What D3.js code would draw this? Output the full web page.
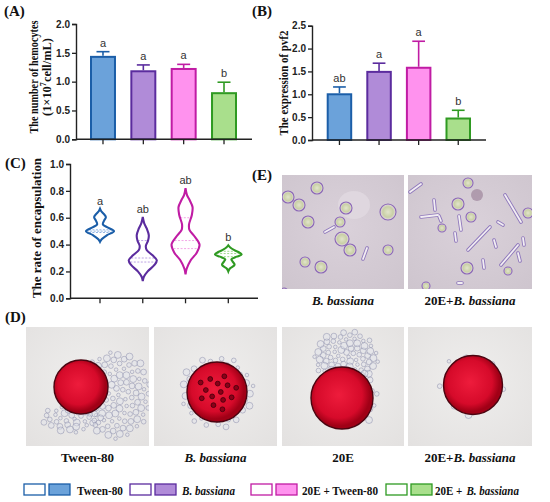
<!DOCTYPE html>
<html>
<head>
<meta charset="utf-8">
<script src="https://cdn.jsdelivr.net/npm/d3@7"></script>
<style>
  body { margin: 0; background: #fff; }
  svg { display: block; }
</style>
</head>
<body>
<svg id="fig" width="550" height="502"></svg>
<script>
// groups + colours
const groups = ["Tween-80", "B. bassiana", "20E + Tween-80", "20E + B. bassiana"];
const strokeColors = ["#1b5ea8", "#5b2c9e", "#c01ca4", "#2f9a22"];
const fillColors = ["#6ba2da", "#b08bd8", "#ff92ee", "#a9df8c"];
const dashColors = ["#90b4e4", "#bda4e4", "#f2a6e6", "#9ed88c"];

// (A) hemocyte counts
const hemoMean = [1.43, 1.18, 1.22, 0.80];
const hemoUpper = [1.52, 1.29, 1.30, 0.99];
const hemoLetters = ["a", "a", "a", "b"];
const hemoTicks = [0, 0.5, 1.0, 1.5, 2.0];

// (B) pvf2 expression
const pvf2Mean = [1.00, 1.49, 1.58, 0.47];
const pvf2Upper = [1.16, 1.68, 2.16, 0.65];
const pvf2Letters = ["ab", "a", "a", "b"];
const pvf2Ticks = [0, 0.5, 1.0, 1.5, 2.0, 2.5];

// (C) encapsulation violins: [value, relative density]
const encapProfiles = [
    [[0.42, 0], [0.44, 0.12], [0.47, 0.5], [0.50, 1.0], [0.53, 0.5], [0.55, 0.2], [0.58, 0.3], [0.605, 0.42], [0.63, 0.25], [0.65, 0.08], [0.667, 0]],
    [[0.128, 0], [0.16, 0.08], [0.20, 0.35], [0.25, 0.85], [0.284, 1.0], [0.32, 0.7], [0.36, 0.28], [0.39, 0.22], [0.43, 0.38], [0.47, 0.43], [0.52, 0.28], [0.56, 0.1], [0.605, 0]],
    [[0.178, 0], [0.22, 0.08], [0.28, 0.35], [0.34, 0.8], [0.40, 1.0], [0.46, 0.65], [0.51, 0.28], [0.55, 0.25], [0.62, 0.45], [0.68, 0.5], [0.73, 0.3], [0.77, 0.1], [0.82, 0]],
    [[0.20, 0], [0.22, 0.1], [0.25, 0.45], [0.275, 0.3], [0.29, 0.22], [0.31, 0.6], [0.326, 0.95], [0.34, 0.8], [0.36, 0.4], [0.38, 0.12], [0.395, 0]]
];
const encapQuartiles = [[0.49, 0.50, 0.51], [0.27, 0.30, 0.43], [0.37, 0.43, 0.60], [0.31, 0.333, 0.35]];
const encapLetters = ["a", "ab", "ab", "b"];
const encapTicks = [0, 0.2, 0.4, 0.6, 0.8, 1.0];

// photo captions and legend: [upright part, italic part, gap]
const photoCaptionsD = [["Tween-80", "", 0], ["", "B. bassiana", 0], ["20E", "", 0], ["20E+", "B. bassiana", 0]];
const photoCaptionsE = [["", "B. bassiana", 0], ["20E+", "B. bassiana", 0]];
const legendParts = [["Tween-80", "", 0], ["", "B. bassiana", 0], ["20E + Tween-80", "", 0], ["20E +", "B. bassiana", 4]];

const svg = d3.select("#fig");
const serif = "'Liberation Serif', 'Times New Roman', serif";
const sans = "'Liberation Sans', Arial, sans-serif";
const defs = svg.append("defs");

function panelLabel(txt, x, y) {
    svg.append("text").attr("x", x).attr("y", y)
        .attr("font-family", serif).attr("font-weight", "bold").attr("font-size", 15)
        .attr("fill", "#111").text(txt);
}

function yAxis(g, y, ticks, x0) {
    const ax = g.append("g").attr("transform", `translate(${x0},0)`)
        .call(d3.axisLeft(y).tickValues(ticks).tickFormat(d3.format(".1f")).tickSize(4).tickPadding(2));
    ax.select(".domain").attr("stroke", "#222").attr("stroke-width", 1.4);
    ax.selectAll(".tick line").attr("stroke", "#222").attr("stroke-width", 1.3);
    ax.selectAll(".tick text").attr("font-family", sans).attr("font-weight", "bold")
        .attr("font-size", 10).attr("fill", "#222");
}

function xAxis(g, y0, x0, x1, centers) {
    g.append("line").attr("x1", x0).attr("x2", x1).attr("y1", y0).attr("y2", y0)
        .attr("stroke", "#222").attr("stroke-width", 1.4);
    g.selectAll(".xt").data(centers).join("line")
        .attr("x1", d => d).attr("x2", d => d).attr("y1", y0).attr("y2", y0 + 5)
        .attr("stroke", "#222").attr("stroke-width", 1.3);
}

function yTitle(lines, yc) {
    lines.forEach(l => {
        const t = svg.append("text")
            .attr("transform", `translate(${l.x},${yc}) rotate(-90)`)
            .attr("text-anchor", "middle")
            .attr("font-family", serif).attr("font-weight", "bold").attr("font-size", 11.5)
            .attr("fill", "#111");
        if (l.len) t.attr("textLength", l.len).attr("lengthAdjust", "spacingAndGlyphs");
        l.parts.forEach(p => {
            const s = t.append("tspan").text(p.t);
            if (p.sup) s.attr("font-size", 7.5).attr("dy", -5);
            if (p.after) s.attr("dy", 5);
        });
    });
}

// upright + italic text pieces laid side by side
function mixedText(parent, parts, x, y, size, anchor, totalLen) {
    const g = parent.append("g");
    const gap = parts[2];
    const a = g.append("text").attr("y", y).attr("font-family", serif).attr("font-weight", "bold")
        .attr("font-size", size).attr("fill", "#111").text(parts[0]);
    const b = g.append("text").attr("y", y).attr("font-family", serif).attr("font-weight", "bold")
        .attr("font-style", "italic").attr("font-size", size).attr("fill", "#111").text(parts[1]);
    let wa = parts[0] ? a.node().getComputedTextLength() : 0;
    let wb = parts[1] ? b.node().getComputedTextLength() : 0;
    if (totalLen) {
        const k = (totalLen - gap) / (wa + wb);
        wa *= k; wb *= k;
        if (parts[0]) a.attr("textLength", wa).attr("lengthAdjust", "spacingAndGlyphs");
        if (parts[1]) b.attr("textLength", wb).attr("lengthAdjust", "spacingAndGlyphs");
    }
    const x0 = anchor === "middle" ? x - (wa + wb + gap) / 2 : x;
    a.attr("x", x0);
    b.attr("x", x0 + wa + gap);
    if (!parts[0]) a.remove();
    if (!parts[1]) b.remove();
}

function barPanel(cfg) {
    const g = svg.append("g");
    const y = d3.scaleLinear().domain([0, cfg.max]).range([cfg.yBottom, cfg.yTop]);
    const x = d3.scaleBand().domain(groups).range(cfg.barRange).paddingInner(0.356).paddingOuter(0);
    const bw = x.bandwidth();

    g.selectAll(".bar").data(groups).join("rect")
        .attr("x", d => x(d) + 1)
        .attr("width", bw - 2)
        .attr("y", (d, i) => y(cfg.mean[i]))
        .attr("height", (d, i) => y(0) - y(cfg.mean[i]))
        .attr("fill", (d, i) => fillColors[i])
        .attr("stroke", (d, i) => strokeColors[i])
        .attr("stroke-width", 2);

    g.selectAll(".err").data(groups).join("line")
        .attr("x1", d => x(d) + bw / 2).attr("x2", d => x(d) + bw / 2)
        .attr("y1", (d, i) => y(cfg.mean[i]) - 1).attr("y2", (d, i) => y(cfg.upper[i]))
        .attr("stroke", (d, i) => strokeColors[i]).attr("stroke-width", 1.6);
    g.selectAll(".cap").data(groups).join("line")
        .attr("x1", d => x(d) + bw / 4).attr("x2", d => x(d) + bw * 3 / 4)
        .attr("y1", (d, i) => y(cfg.upper[i])).attr("y2", (d, i) => y(cfg.upper[i]))
        .attr("stroke", (d, i) => strokeColors[i]).attr("stroke-width", 1.6);
    g.selectAll(".let").data(groups).join("text")
        .attr("x", d => x(d) + bw / 2).attr("y", (d, i) => y(cfg.upper[i]) - 5)
        .attr("text-anchor", "middle").attr("font-family", sans).attr("font-size", 11)
        .attr("fill", "#333").text((d, i) => cfg.letters[i]);

    xAxis(g, cfg.yBottom, cfg.x0, cfg.x1, groups.map(d => x(d) + bw / 2));
    yAxis(g, y, cfg.ticks, cfg.x0);
}

// ---------- (A)
panelLabel("(A)", 4, 16);
barPanel({ mean: hemoMean, upper: hemoUpper, letters: hemoLetters, ticks: hemoTicks, max: 2.0,
    yTop: 24, yBottom: 139.3, x0: 76, x1: 252, barRange: [90, 237] });
yTitle([
    { x: 38, parts: [{ t: "The number of hemocytes" }], len: 113 },
    { x: 51, parts: [{ t: "(1×10" }, { t: "7", sup: true }, { t: "cell/mL)", after: true }], len: 78 }
], 77);

// ---------- (B)
panelLabel("(B)", 252, 16);
barPanel({ mean: pvf2Mean, upper: pvf2Upper, letters: pvf2Letters, ticks: pvf2Ticks, max: 2.5,
    yTop: 25.7, yBottom: 140, x0: 312, x1: 486, barRange: [326.7, 471] });
yTitle([{ x: 288, parts: [{ t: "The expression of  pvf2" }], len: 105 }], 83);

// ---------- (C)
panelLabel("(C)", 5, 168);
{
    const g = svg.append("g");
    const y = d3.scaleLinear().domain([0, 1]).range([298.3, 164]);
    const x = d3.scalePoint().domain(groups).range([100, 228.3]);
    const w = d3.scaleLinear().domain([0, 1]).range([0, 14]);

    const area = d3.area()
        .y(d => y(d[0]))
        .x0(d => -w(d[1]))
        .x1(d => w(d[1]))
        .curve(d3.curveCatmullRom.alpha(0.5));
    const profileAt = (prof, v) =>
        d3.scaleLinear().domain(prof.map(p => p[0])).range(prof.map(p => p[1]))(v);

    groups.forEach((grp, i) => {
        const vg = g.append("g").attr("transform", `translate(${x(grp)},0)`);
        vg.selectAll(".q").data(encapQuartiles[i]).join("line")
            .attr("x1", d => -w(profileAt(encapProfiles[i], d)) * 0.95)
            .attr("x2", d => w(profileAt(encapProfiles[i], d)) * 0.95)
            .attr("y1", d => y(d)).attr("y2", d => y(d))
            .attr("stroke", dashColors[i]).attr("stroke-width", 1)
            .attr("stroke-dasharray", "2,1.5");
        vg.append("path").datum(encapProfiles[i])
            .attr("d", area)
            .attr("fill", "none")
            .attr("stroke", strokeColors[i])
            .attr("stroke-width", 2.1);
        const top = d3.max(encapProfiles[i], d => d[0]);
        vg.append("text").attr("x", 0).attr("y", y(top) - 4)
            .attr("text-anchor", "middle").attr("font-family", sans).attr("font-size", 11)
            .attr("fill", "#333").text(encapLetters[i]);
    });

    xAxis(g, 298.3, 70, 258, groups.map(d => x(d)));
    yAxis(g, y, encapTicks, 70);
}
yTitle([{ x: 41, parts: [{ t: "The rate of encapsulation" }], len: 140 }], 228);

// ---------- photo helpers
function photoFrame(id, x, y, w, h, bg, edge) {
    const cp = defs.append("clipPath").attr("id", id);
    cp.append("rect").attr("x", x).attr("y", y).attr("width", w).attr("height", h);
    const gr = defs.append("radialGradient").attr("id", id + "bg").attr("cx", "50%").attr("cy", "45%").attr("r", "75%");
    gr.append("stop").attr("offset", "0%").attr("stop-color", bg);
    gr.append("stop").attr("offset", "100%").attr("stop-color", edge);
    const g = svg.append("g").attr("clip-path", `url(#${id})`);
    g.append("rect").attr("x", x).attr("y", y).attr("width", w).attr("height", h).attr("fill", `url(#${id}bg)`);
    return g;
}

// ---------- (E) hemocytes and hyphal bodies
panelLabel("(E)", 252, 180);
const cellGrad = defs.append("radialGradient").attr("id", "cellG");
cellGrad.append("stop").attr("offset", "0%").attr("stop-color", "#e2e4cc");
cellGrad.append("stop").attr("offset", "65%").attr("stop-color", "#c9d0a6");
cellGrad.append("stop").attr("offset", "100%").attr("stop-color", "#e4d8e6");

// cells: [dx, dy, r] inside photo; rods: [dx1, dy1, dx2, dy2]
const eCells = [
    [[6, 22, 6], [35, 13, 6], [17, 30, 6], [26, 47, 6], [64, 33, 6], [58, 47, 5], [60, 64, 7], [68, 75, 6], [106, 37, 8], [106, 75, 5], [23, 87, 5], [39, 92, 6], [2, 117, 4]],
    [[60, 8, 5], [50, 29, 6], [63, 42, 5], [34, 53, 4], [120, 38, 5], [59, 93, 6], [100, 96, 4], [18, 111, 4]]
];
const eRods = [
    [[43, 57, 52, 52], [81, 84, 85, 73]],
    [[2, 17, 13, 9], [13, 42, 30, 40], [26, 25, 27, 35], [31, 41, 33, 46], [51, 41, 53, 55], [47, 58, 48, 66], [60, 75, 82, 52], [86, 65, 88, 72], [97, 20, 113, 47], [93, 90, 110, 70], [75, 85, 76, 93], [110, 78, 112, 86], [115, 63, 116, 70], [50, 108, 54, 108], [90, 47, 95, 50]]
];
const ePhotos = [[282, 175, 122, 114], [408, 175, 124, 114]];
ePhotos.forEach((p, i) => {
    const g = photoFrame("pe" + i, p[0], p[1], p[2], p[3], "#dad1da", "#cec5ce");
    if (i === 0) {
        g.append("ellipse").attr("cx", p[0] + 72).attr("cy", p[1] + 30).attr("rx", 16).attr("ry", 14)
            .attr("fill", "#e2dce2").attr("opacity", 0.7);
    } else {
        g.append("circle").attr("cx", p[0] + 69).attr("cy", p[1] + 20).attr("r", 6)
            .attr("fill", "#8a6a86").attr("opacity", 0.5);
    }
    g.selectAll(".rodo").data(eRods[i]).join("line")
        .attr("x1", d => p[0] + d[0]).attr("y1", d => p[1] + d[1])
        .attr("x2", d => p[0] + d[2]).attr("y2", d => p[1] + d[3])
        .attr("stroke", "#8f78bc").attr("stroke-width", 3.6).attr("stroke-linecap", "round");
    g.selectAll(".rodi").data(eRods[i]).join("line")
        .attr("x1", d => p[0] + d[0]).attr("y1", d => p[1] + d[1])
        .attr("x2", d => p[0] + d[2]).attr("y2", d => p[1] + d[3])
        .attr("stroke", "#f2eef2").attr("stroke-width", 1.8).attr("stroke-linecap", "round");
    g.selectAll(".cell").data(eCells[i]).join("circle")
        .attr("cx", d => p[0] + d[0]).attr("cy", d => p[1] + d[1]).attr("r", d => d[2])
        .attr("fill", "url(#cellG)").attr("stroke", "#8a66b6").attr("stroke-width", 1.1);
    mixedText(svg, photoCaptionsE[i], p[0] + p[2] / 2, 305, 13, "middle");
});

// ---------- (D) encapsulated beads
panelLabel("(D)", 5, 322);
const beadGrad = defs.append("radialGradient").attr("id", "beadG").attr("cx", "45%").attr("cy", "45%");
beadGrad.append("stop").attr("offset", "0%").attr("stop-color", "#ee1c3c");
beadGrad.append("stop").attr("offset", "75%").attr("stop-color", "#d60a2a");
beadGrad.append("stop").attr("offset", "100%").attr("stop-color", "#a00016");

const dPhotos = [[26, 327, 123, 119], [154, 327, 123, 119], [282, 327, 122, 119], [408, 327, 124, 119]];
// bead: [dx, dy, r]; bubble cluster: [dx, dy, rx, ry, count]
const dBeads = [[55, 60, 27], [63, 65, 30], [60, 71, 31], [65, 58, 29.5]];
const dClusters = [
    [[90, 68, 36, 44, 110], [45, 92, 30, 14, 35]],
    [[63, 65, 37, 37, 70]],
    [[64, 30, 33, 26, 80], [84, 72, 12, 26, 16]],
    [[62, 58, 34, 32, 22]]
];
dPhotos.forEach((p, i) => {
    const g = photoFrame("pd" + i, p[0], p[1], p[2], p[3], "#efeeed", "#e3e1e0");
    dClusters[i].forEach(c => {
        const pts = d3.range(c[4]).map(k => {
            const a = k * 2.39996, rr = Math.sqrt((k + 0.5) / c[4]);
            return [p[0] + c[0] + Math.cos(a) * rr * c[2], p[1] + c[1] + Math.sin(a) * rr * c[3], 1.8 + (k % 4) * 0.55];
        });
        g.selectAll(null).data(pts).join("circle")
            .attr("cx", d => d[0]).attr("cy", d => d[1]).attr("r", d => d[2])
            .attr("fill", "#dfe2ea").attr("fill-opacity", 0.45)
            .attr("stroke", "#8e90ac").attr("stroke-opacity", 0.75).attr("stroke-width", 0.7);
    });
    const b = dBeads[i];
    g.append("circle").attr("cx", p[0] + b[0]).attr("cy", p[1] + b[1]).attr("r", b[2])
        .attr("fill", "url(#beadG)").attr("stroke", "#4a0410").attr("stroke-width", 1.4);
    if (i === 1) {
        const vac = d3.range(14).map(k => {
            const a = k * 2.39996, rr = Math.sqrt((k + 0.5) / 14) * 20;
            return [p[0] + b[0] + Math.cos(a) * rr, p[1] + b[1] + Math.sin(a) * rr];
        });
        g.selectAll(null).data(vac).join("circle")
            .attr("cx", d => d[0]).attr("cy", d => d[1]).attr("r", 2.4)
            .attr("fill", "#8a0018").attr("stroke", "#40000a").attr("stroke-width", 0.8);
    }
    mixedText(svg, photoCaptionsD[i], p[0] + p[2] / 2, 462, 13, "middle");
});

// ---------- legend
const legendX = [[24, 49, 77], [130, 155, 182], [251, 276, 302], [386, 411, 435]];
const legendLen = [46, 53, 76, 84];
const lg = svg.append("g");
groups.forEach((grp, i) => {
    lg.append("rect").attr("x", legendX[i][0]).attr("y", 484).attr("width", 21).attr("height", 11)
        .attr("fill", "#fff").attr("stroke", strokeColors[i]).attr("stroke-width", 1.3);
    lg.append("rect").attr("x", legendX[i][1]).attr("y", 484).attr("width", 21).attr("height", 11)
        .attr("fill", fillColors[i]).attr("stroke", strokeColors[i]).attr("stroke-width", 1.3);
    mixedText(lg, legendParts[i], legendX[i][2], 495, 12.5, "start", legendLen[i]);
});
</script>
</body>
</html>
